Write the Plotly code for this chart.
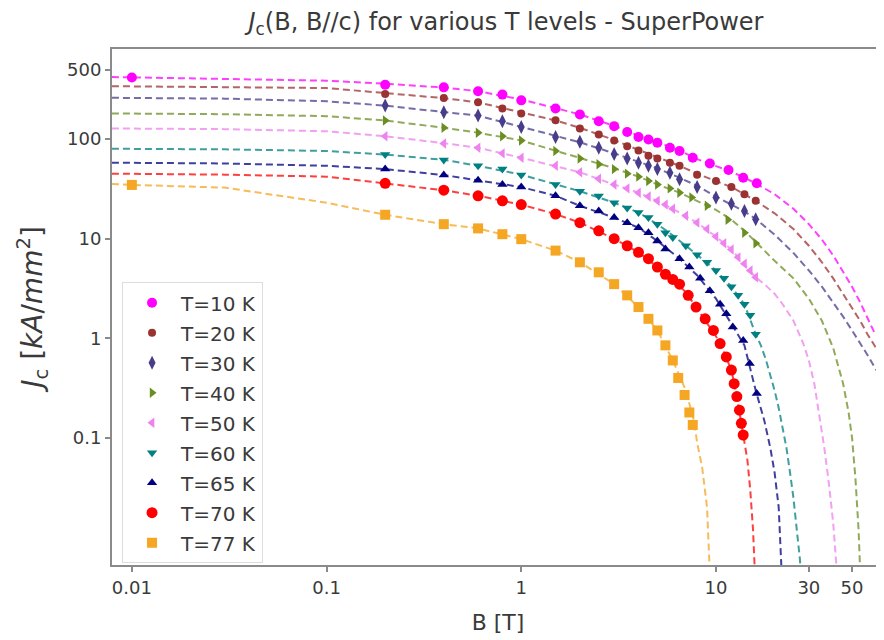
import plotly.graph_objects as go

# ---------------- measured data (markers) ----------------
temps = ["T=10 K", "T=20 K", "T=30 K", "T=40 K", "T=50 K", "T=60 K", "T=65 K", "T=70 K", "T=77 K"]
colors = ["#ff00ff", "#9b3232", "#483d8b", "#6b8e23", "#ee82ee", "#008080", "#000080", "#ff0000", "#f5a623"]
symbols = ["circle", "circle", "diamond-tall", "triangle-right", "triangle-left",
           "triangle-down", "triangle-up", "circle", "square"]
msizes = [10, 8, 10, 9, 9, 9, 9, 11, 10]

B_10 = [0.01, 0.2, 0.4, 0.6, 0.8, 1, 1.5, 2, 2.5, 3, 3.5, 4, 4.5, 5, 5.8, 6.5, 7.6, 9.3, 11.6, 13.8, 16.2]
J_10 = [415, 352, 331, 302, 280, 245, 203, 177, 151, 135, 118, 105, 99, 92, 82, 76, 65, 57, 49, 41, 36]

B_20 = [0.2, 0.4, 0.6, 0.8, 1, 1.5, 2, 2.5, 3, 3.5, 4, 4.5, 5, 5.8, 6.5, 8, 10, 12, 14, 16]
J_20 = [284, 259, 234, 203, 181, 155, 128, 111, 97, 85, 77, 68, 64, 58, 54, 44, 38, 33, 28, 24]

B_30 = [0.2, 0.4, 0.6, 0.8, 1, 1.5, 2, 2.5, 3, 3.5, 4, 4.5, 5, 5.8, 6.5, 8, 10, 12, 14, 16]
J_30 = [217, 186, 173, 151, 132, 105, 94, 82, 71, 64, 58, 54, 50, 46, 39.5, 33, 26, 22.5, 19, 15.7]

B_40 = [0.2, 0.4, 0.6, 0.8, 1, 1.5, 2, 2.5, 3, 3.5, 4, 4.5, 5, 5.8, 6.5, 7.5, 9, 11.5, 14, 16]
J_40 = [154, 130, 116, 107, 97, 76, 64, 56, 50, 45, 42, 38, 35, 32, 29, 26, 21.4, 15.5, 11.5, 9.0]

B_50 = [0.2, 0.4, 0.6, 0.8, 1, 1.5, 2, 2.5, 3, 3.5, 4, 4.5, 5, 5.5, 6, 7, 8, 9, 10, 11, 12, 13, 14, 15, 16]
J_50 = [107, 90.5, 82, 72, 65, 54, 46.5, 40, 35, 32, 29, 26.5, 24, 22, 20, 17, 14.5, 12.5, 10.5, 9, 7.8, 6.5, 5.6, 4.8, 4.1]

B_60 = [0.2, 0.4, 0.6, 0.8, 1, 1.5, 2, 2.5, 3, 3.5, 4, 4.5, 5, 5.5, 6, 7, 8, 9, 10, 11, 12, 13, 14, 15, 16]
J_60 = [70, 61.7, 54, 50, 43.6, 35, 30, 26.9, 23, 20.4, 18.3, 16.3, 14, 11.5, 10.3, 8.5, 6.9, 5.8, 4.8, 4.0, 3.3, 2.7, 2.2, 1.7, 1.1]

B_65 = [0.2, 0.4, 0.6, 0.8, 1, 1.5, 2, 2.5, 3, 3.5, 4, 4.5, 5, 5.5, 6.5, 7.3, 8.3, 9.3, 10.5, 11.3, 12.2, 13.8, 14.9, 16.2]
J_65 = [50, 43.6, 38.6, 35, 33, 27, 21.4, 19, 16.3, 14.5, 12.9, 11.5, 9.5, 7.9, 6.3, 5.2, 4.0, 3.0, 2.2, 1.77, 1.3, 0.95, 0.56, 0.28]

B_70 = [0.2, 0.4, 0.6, 0.8, 1, 1.5, 2, 2.5, 3, 3.5, 4, 4.5, 5, 5.5, 6, 6.5, 7.2, 7.9, 8.8, 9.7, 10.5, 11.3, 12.0, 12.4, 12.8, 13.2, 13.5, 13.8]
J_70 = [36, 30.7, 27, 24, 22, 17.7, 14.5, 12, 10, 8.5, 7.3, 6.3, 5.2, 4.4, 3.9, 3.5, 2.7, 2.06, 1.57, 1.2, 0.885, 0.65, 0.48, 0.35, 0.26, 0.19, 0.14, 0.107]

B_77 = [0.01, 0.2, 0.4, 0.6, 0.8, 1, 1.5, 2, 2.5, 3, 3.5, 4, 4.5, 5, 5.5, 6, 6.4, 6.9, 7.3, 7.6]
J_77 = [34.7, 17.4, 14, 12.7, 11.1, 9.9, 7.6, 5.8, 4.6, 3.5, 2.7, 2.06, 1.57, 1.2, 0.85, 0.6, 0.4, 0.27, 0.18, 0.135]

# ---------------- fitted curves (dashed) ----------------
FB_10 = [0.0079, 0.03, 0.1, 0.2, 0.4, 0.6, 1, 1.5, 2, 3, 4, 5, 6.5, 8, 10, 12, 14, 16, 20, 25, 30, 35, 40, 45, 50, 55, 60, 65, 72, 80]
FJ_10 = [420, 405, 386, 360, 330, 303, 250, 205, 177, 136, 108, 93, 77, 63, 54, 47, 41, 36, 28, 20, 14, 9.8, 6.8, 4.7, 3.3, 2.3, 1.6, 1.15, 0.9, 0.5]

FB_20 = [0.0079, 0.03, 0.1, 0.2, 0.4, 0.6, 1, 1.5, 2, 3, 4, 5, 6.5, 8, 10, 12, 14, 16, 20, 25, 30, 35, 40, 45, 50, 55, 60, 65, 72, 80]
FJ_20 = [340, 335, 326, 290, 258, 234, 185, 154, 130, 98, 78, 66, 54, 45, 38, 33, 28, 24, 18, 12.5, 8.5, 5.8, 4.0, 2.8, 2.0, 1.5, 1.1, 0.85, 0.62, 0.3]

FB_30 = [0.0079, 0.03, 0.1, 0.2, 0.4, 0.6, 1, 1.5, 2, 3, 4, 5, 6.5, 8, 10, 12, 14, 16, 20, 25, 30, 35, 40, 45, 50, 55, 60, 65, 72, 80]
FJ_30 = [260, 255, 240, 217, 187, 172, 133, 107, 93, 72, 59, 51, 41, 34, 26.5, 22, 18.8, 15.8, 11, 7.2, 4.8, 3.3, 2.3, 1.65, 1.2, 0.9, 0.68, 0.52, 0.38, 0.15]

FB_40 = [0.0079, 0.03, 0.1, 0.2, 0.4, 0.6, 1, 1.5, 2, 3, 4, 5, 6.5, 8, 10, 12, 14, 16, 20, 25, 30, 35, 40, 45, 48, 50, 52, 54, 55.5]
FJ_40 = [181, 178, 170, 154, 130, 116, 97, 77, 65, 51, 42, 35, 29, 24, 19.5, 15.5, 12, 9.3, 6.0, 4.0, 2.5, 1.5, 0.8, 0.35, 0.18, 0.1, 0.04, 0.012, 0.003]

FB_50 = [0.0079, 0.03, 0.1, 0.2, 0.4, 0.6, 1, 1.5, 2, 3, 4, 5, 6, 8, 10, 12, 14, 16, 18, 20, 22, 25, 28, 30, 32, 34, 36, 38, 40, 42, 43]
FJ_50 = [128, 126, 120, 107, 91, 82, 65, 54, 46.5, 35, 29, 24, 20, 14.5, 10.5, 7.8, 5.6, 4.1, 3.4, 2.8, 2.2, 1.5, 0.9, 0.6, 0.35, 0.16, 0.08, 0.035, 0.014, 0.004, 0.001]

FB_60 = [0.0079, 0.03, 0.1, 0.2, 0.4, 0.6, 1, 1.5, 2, 3, 4, 5, 6, 8, 10, 12, 14, 16, 17, 18, 19, 20, 21, 22, 23, 24, 25, 26, 27, 28]
FJ_60 = [80, 79, 76, 70, 62, 54, 44, 35, 30, 23, 18.3, 14, 10.8, 6.9, 4.8, 3.3, 2.2, 1.1, 0.85, 0.62, 0.43, 0.3, 0.2, 0.13, 0.08, 0.045, 0.025, 0.012, 0.006, 0.002]

FB_65 = [0.0079, 0.03, 0.1, 0.2, 0.4, 0.6, 1, 1.5, 2, 3, 4, 5, 6.5, 8, 10, 12, 14, 16, 17, 17.7, 19, 20, 21, 21.7, 22.5]
FJ_65 = [58, 57, 54, 50, 43.6, 38.6, 33, 27, 21.4, 16.3, 12.9, 9.5, 6.3, 4.3, 2.5, 1.4, 0.85, 0.3, 0.2, 0.15, 0.08, 0.045, 0.02, 0.005, 0.001]

FB_70 = [0.0079, 0.03, 0.1, 0.2, 0.4, 0.6, 1, 1.5, 2, 3, 4, 5, 6, 7, 8, 9, 10, 11, 12, 12.8, 13.5, 14, 14.5, 15, 15.5, 15.8, 16.3]
FJ_70 = [45, 44, 42, 36, 30.7, 27, 22, 17.7, 14.5, 10, 7.3, 5.2, 3.9, 2.9, 2.0, 1.45, 1.05, 0.72, 0.48, 0.26, 0.14, 0.09, 0.06, 0.03, 0.012, 0.005, 0.001]

FB_77 = [0.0079, 0.01, 0.03, 0.05, 0.1, 0.2, 0.4, 0.6, 1, 1.5, 2, 3, 4, 5, 6, 7, 7.7, 8, 8.5, 9, 9.3, 9.6]
FJ_77 = [35.5, 34.7, 32.6, 28, 23, 17.4, 14, 12.7, 9.9, 7.6, 5.8, 3.5, 2.06, 1.2, 0.6, 0.3, 0.15, 0.09, 0.05, 0.02, 0.005, 0.001]

markers_B = [B_10, B_20, B_30, B_40, B_50, B_60, B_65, B_70, B_77]
markers_J = [J_10, J_20, J_30, J_40, J_50, J_60, J_65, J_70, J_77]
fits_B = [FB_10, FB_20, FB_30, FB_40, FB_50, FB_60, FB_65, FB_70, FB_77]
fits_J = [FJ_10, FJ_20, FJ_30, FJ_40, FJ_50, FJ_60, FJ_65, FJ_70, FJ_77]

x_ticks = [0.01, 0.1, 1, 10, 30, 50]
x_ticktext = ["0.01", "0.1", "1", "10", "30", "50"]
y_ticks = [0.1, 1, 10, 100, 500]
y_ticktext = ["0.1", "1", "10", "100", "500"]

FONT = "DejaVu Sans"
TXT = "#3a3a3a"

fig = go.Figure()

for i in range(len(temps)):
    fig.add_trace(go.Scatter(
        x=fits_B[i], y=fits_J[i], mode="lines",
        line=dict(color=colors[i], width=2, dash="7px,4px"),
        opacity=0.75, showlegend=False, hoverinfo="skip"))

for i in range(len(temps)):
    fig.add_trace(go.Scatter(
        x=markers_B[i], y=markers_J[i], mode="markers", name=temps[i],
        legendgroup=temps[i],
        marker=dict(color=colors[i], symbol=symbols[i], size=msizes[i], line=dict(width=0))))

# page body has an 8px default margin: figure is sized/placed to compensate
fig.update_layout(
    width=876, height=632,
    margin=dict(l=104, r=0, t=41, b=75),
    paper_bgcolor="white", plot_bgcolor="white",
    font=dict(family=FONT, size=18, color=TXT),
    title=dict(text="<i>J</i><sub>c</sub>(B, B//c) for various T levels - SuperPower",
               x=0.5685, xanchor="center", y=0.978, yanchor="middle",
               font=dict(family=FONT, size=24, color=TXT)),
    legend=dict(x=0.013, y=0.548, xanchor="left", yanchor="top",
                bgcolor="rgba(255,255,255,0.85)", bordercolor="#dddddd", borderwidth=1,
                font=dict(family=FONT, size=20, color=TXT),
                tracegroupgap=1, itemwidth=48),
    showlegend=True,
)

fig.update_xaxes(type="log", range=[-2.102, 1.863],
                 tickvals=x_ticks, ticktext=x_ticktext,
                 showgrid=False, zeroline=False,
                 showline=True, linecolor="#8a8a8a", linewidth=2, mirror=True,
                 ticks="outside", ticklen=5, tickcolor="#8a8a8a", tickwidth=1.5,
                 title=dict(text="B [T]", standoff=18, font=dict(size=22)))
fig.update_yaxes(type="log", range=[-2.276, 2.905],
                 tickvals=y_ticks, ticktext=y_ticktext,
                 showgrid=False, zeroline=False,
                 showline=True, linecolor="#8a8a8a", linewidth=2, mirror=False,
                 ticks="outside", ticklen=5, tickcolor="#8a8a8a", tickwidth=1.5,
                 title=dict(text="<i>J</i><sub>c</sub> [<i>kA</i>/<i>mm</i><sup>2</sup>]",
                            standoff=16, font=dict(size=28)))

fig.write_html("out.html")
